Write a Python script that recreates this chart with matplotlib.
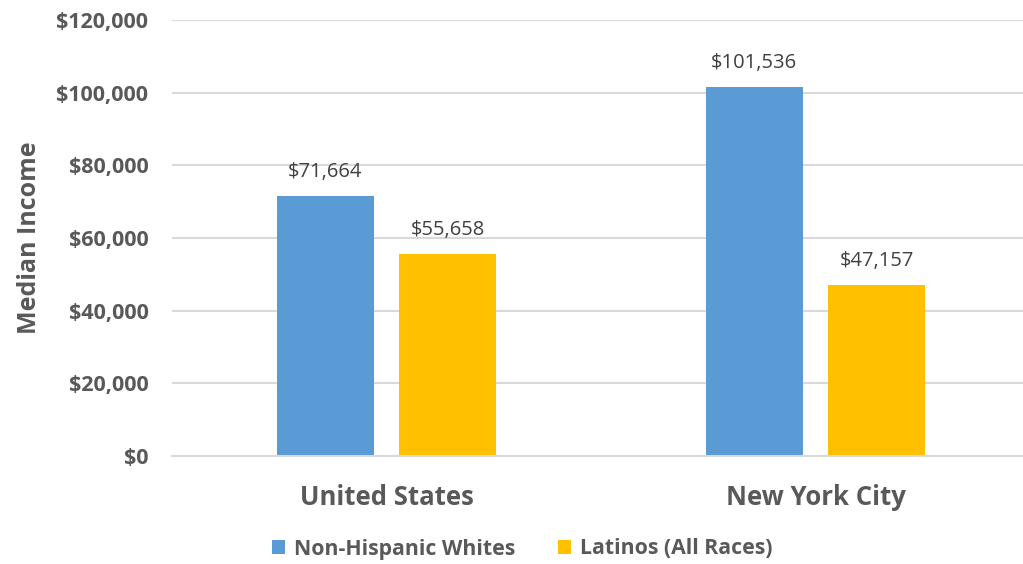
import matplotlib.pyplot as plt
import numpy as np

categories = ["United States", "New York City"]
series_names = ["Non-Hispanic Whites", "Latinos (All Races)"]
whites = [71664, 101536]
latinos = [55658, 47157]
colors = ["#5B9BD5", "#FFC000"]
yticks = [0, 20000, 40000, 60000, 80000, 100000, 120000]

plt.rcParams["font.family"] = ["Open Sans", "DejaVu Sans"]
text_color = "#595959"

fig = plt.figure(figsize=(10.23, 5.64), dpi=100)
ax = fig.add_axes([172 / 1023, 1 - 456 / 564, (1030 - 172) / 1023, (456 - 20) / 564])

x = np.arange(len(categories))
width = 0.226
offset = 0.143
for vals, name, color, dx in zip([whites, latinos], series_names, colors, [-offset, offset]):
    bars = ax.bar(x + dx, vals, width, color=color, label=name, zorder=2)
    for b, v in zip(bars, vals):
        ax.text(b.get_x() + b.get_width() / 2, v + 3800, f"${v:,}",
                ha="center", va="bottom", fontsize=14.5, color="#404040")

ax.set_xlim(-0.5, 1.5)
ax.set_ylim(0, 120000)
ax.set_yticks(yticks)
ax.set_yticklabels([f"${v:,}" for v in yticks], fontsize=15.5, fontweight="bold", color=text_color)
ax.set_xticks(x)
ax.set_xticklabels(categories, fontsize=18.5, fontweight="bold", color=text_color)
ax.tick_params(axis="both", length=0)
ax.tick_params(axis="y", pad=17)
ax.tick_params(axis="x", pad=20)
ax.grid(axis="y", color="#D9D9D9", linewidth=1.5, zorder=0)
for s in ["top", "right", "left"]:
    ax.spines[s].set_visible(False)
ax.spines["bottom"].set_color("#D9D9D9")
ax.spines["bottom"].set_linewidth(1.5)
ax.set_ylabel("Median Income", fontsize=18, fontweight="bold", color=text_color, labelpad=10)

leg = fig.legend(loc="center", bbox_to_anchor=(522 / 1023, 1 - 549 / 564), ncol=2, frameon=False,
                 prop={"size": 15.3, "weight": "bold"}, handlelength=0.65, handleheight=0.65,
                 handletextpad=0.4, columnspacing=2.0)
for t in leg.get_texts():
    t.set_color(text_color)

fig.savefig("out.png", dpi=100)
